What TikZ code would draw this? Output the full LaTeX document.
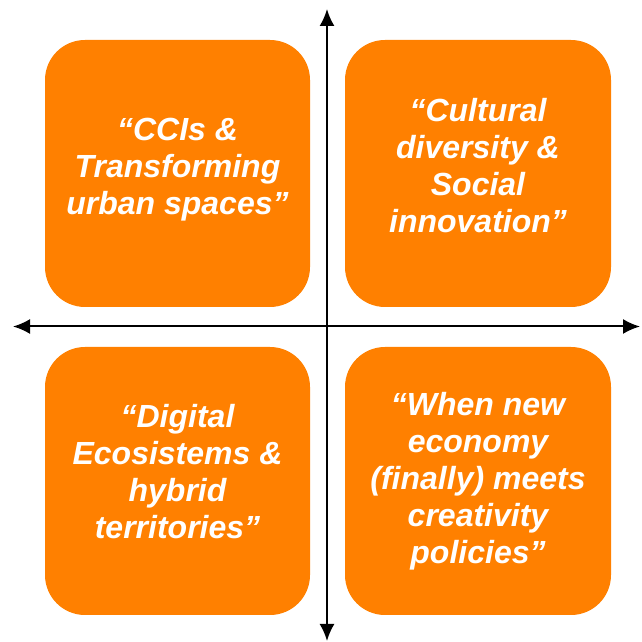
\documentclass[tikz,border=0pt]{standalone}
\usepackage{fontspec}
\setmainfont{Liberation Sans}
\usetikzlibrary{arrows.meta}
\definecolor{quadorange}{RGB}{255,128,0}

\begin{document}
\begin{tikzpicture}[x=0.5pt,y=0.5pt,>={Latex[length=8.5pt,width=7.5pt]},line width=1pt,
  quad/.style={fill=quadorange,rounded corners=20pt},
  quadtext/.style={text=white,font=\fontsize{16}{18.5}\selectfont\bfseries\itshape,align=center}]
\useasboundingbox (0,0) rectangle (642,642);
% the four quadrants
\fill[quad] (45,335) rectangle (310,602);
\fill[quad] (345,335) rectangle (611,602);
\fill[quad] (45,27) rectangle (310,295);
\fill[quad] (345,27) rectangle (611,295);

% axes
\coordinate (west) at (13,315.5);
\coordinate (east) at (640,315.5);
\coordinate (south) at (327,1);
\coordinate (north) at (327,633);
\draw[<->] (west)--(east);
\draw[<->] (south)--(north);

\node[quadtext] (ccis) at (177.5,472) {“CCIs \&\\Transforming\\urban spaces”};
\node[quadtext] (diversity) at (478,476) {“Cultural\\diversity \&\\Social\\innovation”};
\node[quadtext] (digital) at (177.5,170) {“Digital\\Ecosistems \&\\hybrid\\territories”};
\node[quadtext] (economy) at (478,161) {“When new\\economy\\(finally) meets\\creativity\\policies”};

\end{tikzpicture}
\end{document}
